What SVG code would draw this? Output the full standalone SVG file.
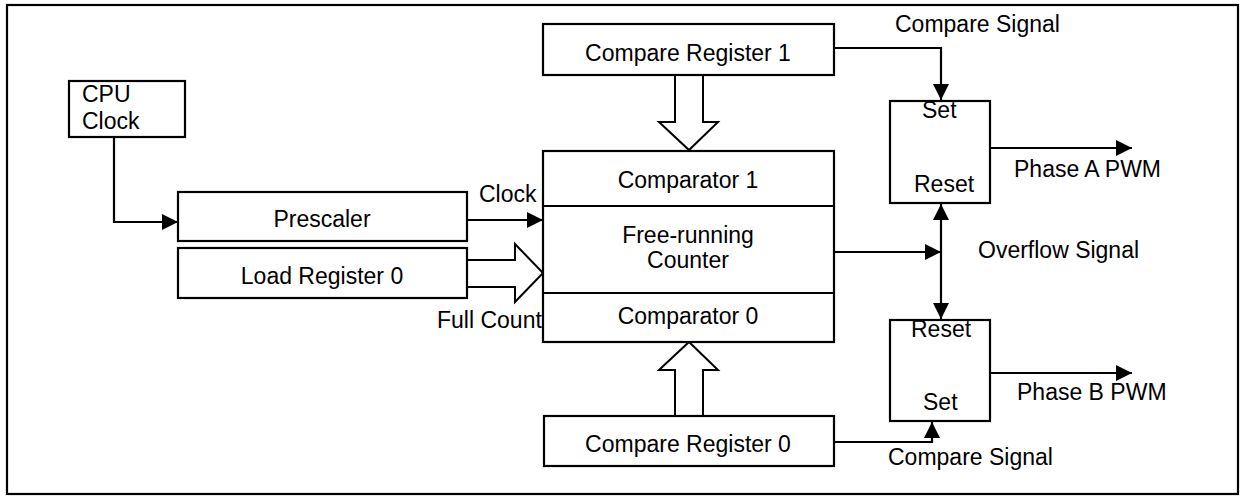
<svg xmlns="http://www.w3.org/2000/svg" width="1249" height="497" viewBox="0 0 1249 497">
<defs>
<marker id="ah" markerWidth="16" markerHeight="16" viewBox="0 0 16 16" refX="16" refY="8" orient="auto" markerUnits="userSpaceOnUse">
<path d="M0,0 L16,8 L0,16 Z" fill="#000"/>
</marker>
<style>
.box{fill:#fff;stroke:#000;stroke-width:2.2}
.ln{fill:none;stroke:#000;stroke-width:2.2}
.big{fill:#fff;stroke:#000;stroke-width:2}
text{font-family:"Liberation Sans",Arial,sans-serif;font-size:23px;fill:#000}
.c{text-anchor:middle}
</style>
</defs>
<rect x="7" y="5" width="1231" height="489" fill="#fff" stroke="#000" stroke-width="2.2"/>

<g id="connectors">
<path class="ln" d="M114,137 V222 H178" marker-end="url(#ah)"/>
<path class="ln" d="M467,220 H543" marker-end="url(#ah)"/>
<path class="ln" d="M834,48 H941 V100" marker-end="url(#ah)"/>
<path class="ln" d="M834,252 H941" marker-end="url(#ah)"/>
<path class="ln" d="M941,252 V204" marker-end="url(#ah)"/>
<path class="ln" d="M941,252 V319" marker-end="url(#ah)"/>
<path class="ln" d="M991,148 H1132" marker-end="url(#ah)"/>
<path class="ln" d="M991,373 H1132" marker-end="url(#ah)"/>
<path class="ln" d="M834,442 H932 V422" marker-end="url(#ah)"/>
<path class="big" d="M675,75 V122 H659 L689,150 L718,122 H703 V75"/>
<path class="big" d="M675,418 V370 H659 L689,342 L718,370 H703 V418"/>
<path class="big" d="M467,260 H515 V244 L543,273 L515,302 V287 H467"/>
<text x="479" y="202">Clock</text>
<text x="437" y="328">Full Count</text>
<text x="895" y="32">Compare Signal</text>
<text x="978" y="258">Overflow Signal</text>
<text x="1014" y="177">Phase A PWM</text>
<text x="1017" y="400">Phase B PWM</text>
<text x="888" y="465">Compare Signal</text>
</g>

<g id="cpu-clock">
<rect class="box" x="69" y="81" width="116" height="56"/>
<text x="82" y="102">CPU</text>
<text x="82" y="129">Clock</text>
</g>

<g id="prescaler">
<rect class="box" x="178" y="192" width="289" height="49"/>
<text class="c" x="322" y="227">Prescaler</text>
</g>

<g id="load-register-0">
<rect class="box" x="178" y="248" width="289" height="50"/>
<text class="c" x="322" y="284">Load Register 0</text>
</g>

<g id="compare-register-1">
<rect class="box" x="543" y="24" width="291" height="51"/>
<text class="c" x="688" y="61">Compare Register 1</text>
</g>

<g id="counter-block">
<rect class="box" x="543" y="151" width="291" height="191"/>
<line class="ln" x1="543" y1="206" x2="834" y2="206"/>
<line class="ln" x1="543" y1="293" x2="834" y2="293"/>
<text class="c" x="688" y="188">Comparator 1</text>
<text class="c" x="688" y="243">Free-running</text>
<text class="c" x="688" y="268">Counter</text>
<text class="c" x="688" y="324">Comparator 0</text>
</g>

<g id="compare-register-0">
<rect class="box" x="544" y="416" width="290" height="50"/>
<text class="c" x="688" y="452">Compare Register 0</text>
</g>

<g id="flipflop-a">
<rect class="box" x="890" y="101" width="100" height="102"/>
<text x="922" y="118">Set</text>
<text x="914" y="192">Reset</text>
</g>

<g id="flipflop-b">
<rect class="box" x="890" y="320" width="100" height="101"/>
<text x="911" y="337">Reset</text>
<text x="923" y="410">Set</text>
</g>
</svg>
